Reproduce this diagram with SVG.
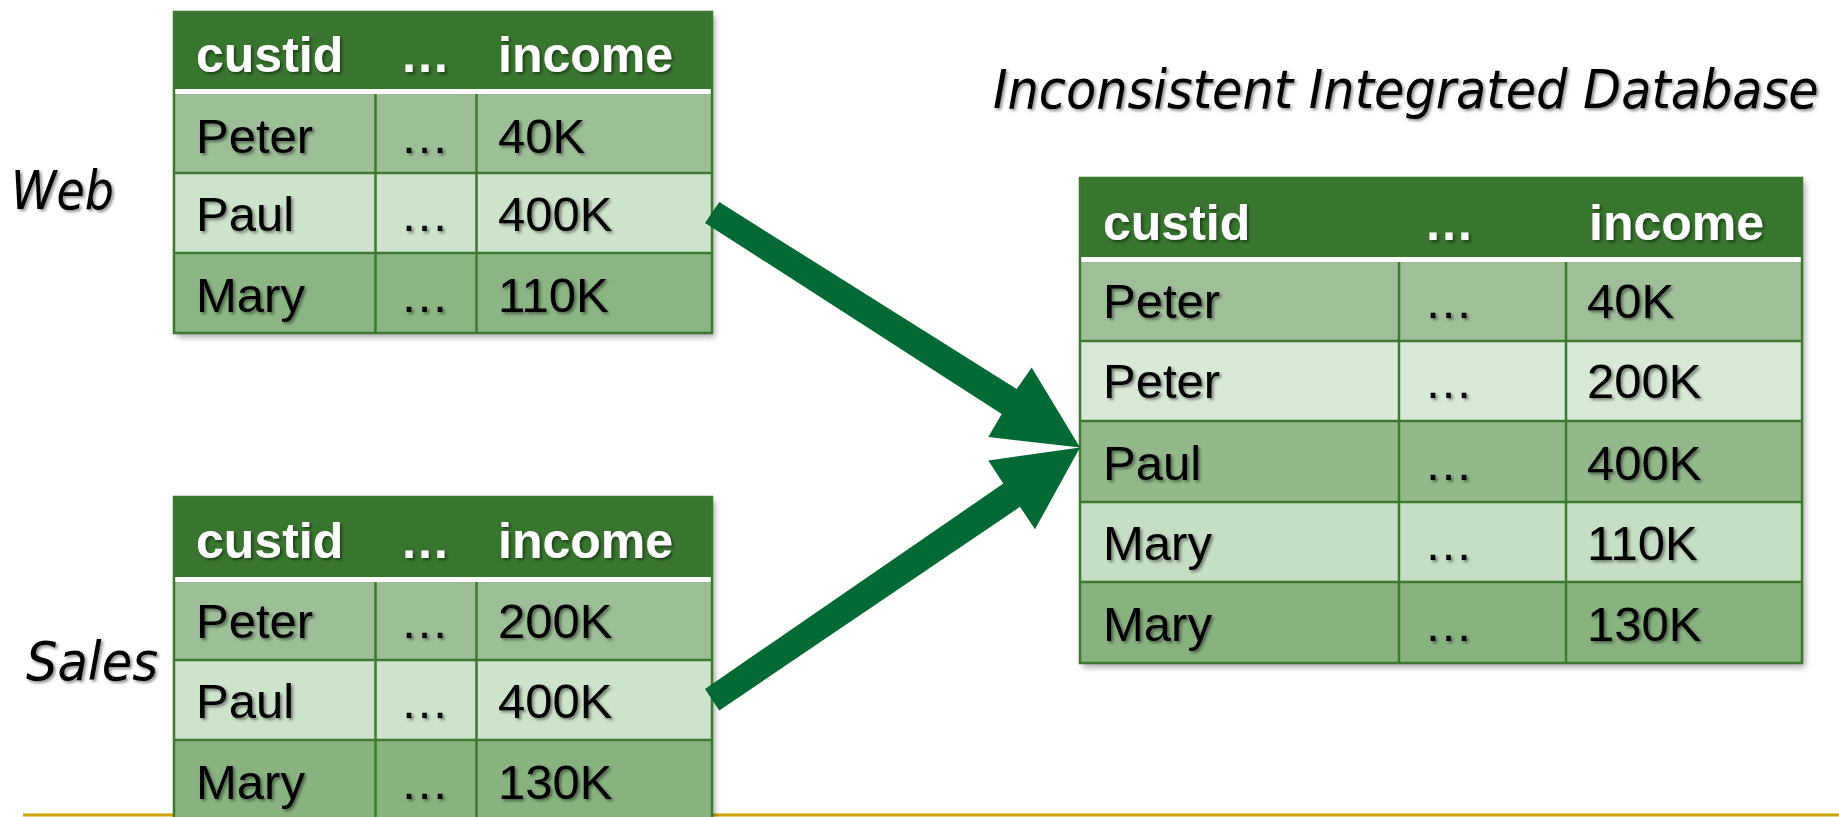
<svg xmlns="http://www.w3.org/2000/svg" width="1839" height="817" viewBox="0 0 1839 817">
  <defs>
    <filter id="tableShadow" x="-5%" y="-5%" width="112%" height="115%">
      <feDropShadow dx="3" dy="4" stdDeviation="3" flood-color="#000" flood-opacity="0.35"/>
    </filter>
    <filter id="textShadow" x="-5%" y="-20%" width="115%" height="150%">
      <feDropShadow dx="2" dy="2" stdDeviation="1.5" flood-color="#000" flood-opacity="0.45"/>
    </filter>
  </defs>
  <style>
    .hdr { fill: #38752D; }
    .sep { fill: #FFFFFF; }
    .grid { stroke: #3B7A2F; stroke-width: 2.5; fill: none; }
    .hd { font-family: "Liberation Sans", Arial, sans-serif; font-size: 50px; font-weight: bold; fill: #FFFFFF; filter: url(#textShadow); }
    .cell { font-family: "Liberation Sans", Arial, sans-serif; font-size: 49px; fill: #000000; filter: url(#textShadow); }
    .label { font-family: "DejaVu Sans", "Liberation Sans", sans-serif; font-style: italic; fill: #000000; filter: url(#textShadow); }
    .arrow { fill: #036A36; }
  </style>

  <rect x="23" y="813.5" width="1816" height="3" fill="#D2A200"/>

  <g id="web-label">
    <text class="label" x="11" y="209" font-size="53" textLength="103" lengthAdjust="spacingAndGlyphs">Web</text>
  </g>
  <g id="sales-label">
    <text class="label" x="26" y="680" font-size="53" textLength="132" lengthAdjust="spacingAndGlyphs">Sales</text>
  </g>
  <g id="title">
    <text class="label" transform="translate(993 108) scale(0.932 1)" x="0" y="0" font-size="53" textLength="886" lengthAdjust="spacingAndGlyphs">Inconsistent Integrated Database</text>
  </g>

  <!-- Web source table -->
  <g id="web-table">
    <g filter="url(#tableShadow)">
      <rect class="hdr" x="174" y="12" width="538" height="77"/>
      <rect class="sep" x="174" y="89" width="538" height="5"/>
      <rect x="174" y="94" width="538" height="79" fill="#9DBF97"/>
      <rect x="174" y="173" width="538" height="80" fill="#CEE3CB"/>
      <rect x="174" y="253" width="538" height="80" fill="#8BB583"/>
    </g>
    <path class="grid" d="M174 173H712M174 253H712M375.5 94V333M476.5 94V333"/>
    <rect class="grid" x="174" y="12" width="538" height="321"/>
    <text class="hd" x="196" y="72">custid</text>
    <text class="hd" x="400" y="72">…</text>
    <text class="hd" x="498" y="72">income</text>
    <text class="cell" x="196" y="153">Peter</text>
    <text class="cell" x="400" y="153">…</text>
    <text class="cell" x="498" y="153">40K</text>
    <text class="cell" x="196" y="231">Paul</text>
    <text class="cell" x="400" y="231">…</text>
    <text class="cell" x="498" y="231">400K</text>
    <text class="cell" x="196" y="312">Mary</text>
    <text class="cell" x="400" y="312">…</text>
    <text class="cell" x="498" y="312">110K</text>
  </g>

  <!-- Sales source table (runs past the bottom edge) -->
  <g id="sales-table">
    <g filter="url(#tableShadow)">
      <rect class="hdr" x="174" y="497" width="538" height="80"/>
      <rect class="sep" x="174" y="577" width="538" height="5"/>
      <rect x="174" y="582" width="538" height="78" fill="#9DBF97"/>
      <rect x="174" y="660" width="538" height="80" fill="#CEE3CB"/>
      <rect x="174" y="740" width="538" height="90" fill="#88B37F"/>
    </g>
    <path class="grid" d="M174 660H712M174 740H712M375.5 582V830M476.5 582V830"/>
    <rect class="grid" x="174" y="497" width="538" height="333"/>
    <text class="hd" x="196" y="558">custid</text>
    <text class="hd" x="400" y="558">…</text>
    <text class="hd" x="498" y="558">income</text>
    <text class="cell" x="196" y="638">Peter</text>
    <text class="cell" x="400" y="638">…</text>
    <text class="cell" x="498" y="638">200K</text>
    <text class="cell" x="196" y="718">Paul</text>
    <text class="cell" x="400" y="718">…</text>
    <text class="cell" x="498" y="718">400K</text>
    <text class="cell" x="196" y="799">Mary</text>
    <text class="cell" x="400" y="799">…</text>
    <text class="cell" x="498" y="799">130K</text>
  </g>

  <!-- Integrated target table -->
  <g id="integrated-table">
    <g filter="url(#tableShadow)">
      <rect class="hdr" x="1080" y="178" width="722" height="79"/>
      <rect class="sep" x="1080" y="257" width="722" height="5"/>
      <rect x="1080" y="262" width="722" height="79" fill="#9FBF99"/>
      <rect x="1080" y="341" width="722" height="80" fill="#D9E9D7"/>
      <rect x="1080" y="421" width="722" height="81" fill="#93B98B"/>
      <rect x="1080" y="502" width="722" height="80" fill="#C6DEC3"/>
      <rect x="1080" y="582" width="722" height="81" fill="#88B37F"/>
    </g>
    <path class="grid" d="M1080 341H1802M1080 421H1802M1080 502H1802M1080 582H1802M1399 262V663M1566 262V663"/>
    <rect class="grid" x="1080" y="178" width="722" height="485"/>
    <text class="hd" x="1103" y="240">custid</text>
    <text class="hd" x="1424" y="240">…</text>
    <text class="hd" x="1589" y="240">income</text>
    <text class="cell" x="1103" y="318">Peter</text>
    <text class="cell" x="1424" y="318">…</text>
    <text class="cell" x="1587" y="318">40K</text>
    <text class="cell" x="1103" y="398">Peter</text>
    <text class="cell" x="1424" y="398">…</text>
    <text class="cell" x="1587" y="398">200K</text>
    <text class="cell" x="1103" y="480">Paul</text>
    <text class="cell" x="1424" y="480">…</text>
    <text class="cell" x="1587" y="480">400K</text>
    <text class="cell" x="1103" y="560">Mary</text>
    <text class="cell" x="1424" y="560">…</text>
    <text class="cell" x="1587" y="560">110K</text>
    <text class="cell" x="1103" y="641">Mary</text>
    <text class="cell" x="1424" y="641">…</text>
    <text class="cell" x="1587" y="641">130K</text>
  </g>

  <!-- Block arrows merging both sources into the integrated table -->
  <g id="connectors">
    <polygon class="arrow" points="719.3,202.1 1016.7,388.9 1031.7,367.5 1080,447.5 988.3,437.1 1001.7,413.9 705,222.9"/>
    <polygon class="arrow" points="705,688.9 1003.3,483.6 988.3,460.4 1080,447.5 1035,529.3 1020,506.8 719.3,710.4"/>
  </g>
</svg>
